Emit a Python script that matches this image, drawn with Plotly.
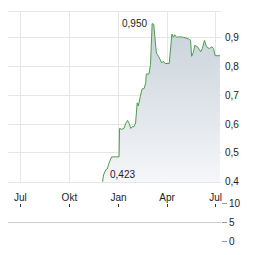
import plotly.graph_objects as go

dates = ["2023-12-02", "2023-12-04", "2023-12-08", "2023-12-11", "2023-12-14", "2023-12-19",
         "2024-01-02", "2024-01-03", "2024-01-07", "2024-01-11", "2024-01-15", "2024-01-18",
         "2024-01-21", "2024-01-24", "2024-01-27", "2024-01-30", "2024-02-02", "2024-02-04",
         "2024-02-05", "2024-02-07", "2024-02-08", "2024-02-11", "2024-02-14", "2024-02-18",
         "2024-02-21", "2024-02-22", "2024-02-27", "2024-03-01", "2024-03-04", "2024-03-07",
         "2024-03-10", "2024-03-12", "2024-03-16", "2024-03-20", "2024-03-22", "2024-03-25",
         "2024-03-28", "2024-04-05", "2024-04-08", "2024-04-10", "2024-04-13", "2024-04-15",
         "2024-04-19", "2024-04-24", "2024-05-02", "2024-05-11", "2024-05-15", "2024-05-17",
         "2024-05-20", "2024-05-23", "2024-05-28", "2024-06-01", "2024-06-03", "2024-06-06",
         "2024-06-10", "2024-06-13", "2024-06-15", "2024-06-19", "2024-06-24", "2024-06-27",
         "2024-06-30", "2024-07-09"]
prices = [0.398, 0.423, 0.441, 0.444, 0.463, 0.486,
          0.486, 0.585, 0.582, 0.585, 0.604, 0.613,
          0.602, 0.585, 0.591, 0.591, 0.604, 0.647,
          0.674, 0.663, 0.674, 0.697, 0.722, 0.724,
          0.744, 0.774, 0.774, 0.808, 0.950, 0.947,
          0.886, 0.847, 0.836, 0.819, 0.813, 0.819,
          0.811, 0.811, 0.869, 0.913, 0.902, 0.911,
          0.902, 0.904, 0.902, 0.897, 0.891, 0.836,
          0.849, 0.874, 0.869, 0.856, 0.852, 0.863,
          0.891, 0.874, 0.867, 0.863, 0.869, 0.863,
          0.838, 0.838]

x_tick_vals = ["2023-07-01", "2023-10-01", "2024-01-01", "2024-04-01", "2024-07-01"]
x_tick_text = ["Jul", "Okt", "Jan", "Apr", "Jul"]
y_tick_vals = [0.4, 0.5, 0.6, 0.7, 0.8, 0.9]
vol_tick_vals = [0, 5, 10]

high_label = "0,950"
low_label = "0,423"

font = dict(family="Liberation Sans, Arial, sans-serif", size=10, color="#222222")

fig = go.Figure()
fig.add_trace(go.Scatter(
    x=dates, y=prices, mode="lines",
    line=dict(color="#4c9e4c", width=1),
    fill="tozeroy",
    fillgradient=dict(type="vertical", start=0.4, stop=0.95,
                      colorscale=[[0, "#f7f8fa"], [1, "#c8d1da"]]),
    xaxis="x", yaxis="y", hoverinfo="skip",
))
# empty volume panel
fig.add_trace(go.Scatter(x=[dates[0]], y=[None], mode="lines", xaxis="x2", yaxis="y2",
                         showlegend=False))

i_hi = prices.index(max(prices))
i_lo = 1
fig.add_annotation(x=dates[i_hi], y=prices[i_hi], text=high_label, showarrow=False,
                   xanchor="right", yanchor="middle", xshift=-3, font=font, xref="x", yref="y")
fig.add_annotation(x=dates[i_lo], y=prices[i_lo], text=low_label, showarrow=False,
                   xanchor="left", yanchor="middle", xshift=4, yshift=1, font=font, xref="x", yref="y")

xr = ["2023-06-08", "2024-07-11"]
fig.update_layout(
    width=264, height=255,
    margin=dict(l=8, r=43, t=7, b=8),
    paper_bgcolor="white", plot_bgcolor="white",
    showlegend=False,
    separators=",.",
    font=font,
    xaxis=dict(domain=[0, 1], range=xr, type="date", anchor="y",
               tickvals=x_tick_vals, ticktext=x_tick_text, ticks="",
               showgrid=True, gridcolor="#e6e6e6", gridwidth=1,
               showline=True, linecolor="#e6e6e6", mirror=True,
               zeroline=False, ticklabelstandoff=6, tickfont=font),
    yaxis=dict(domain=[0.2625, 1], range=[0.4, 0.99], side="right", anchor="x",
               tickvals=y_tick_vals, tickformat=".1f", ticks="",
               showgrid=True, gridcolor="#e6e6e6", gridwidth=1,
               zeroline=False, ticklabelstandoff=3, tickfont=font),
    xaxis2=dict(domain=[0, 1], range=xr, type="date", anchor="y2", side="top",
                tickvals=x_tick_vals, showticklabels=False, ticks="inside",
                ticklen=3, tickcolor="#333333", showgrid=False, zeroline=False,
                showline=False),
    yaxis2=dict(domain=[0, 0.1667], range=[0, 10], side="right", anchor="x2",
                tickvals=vol_tick_vals, ticks="outside", ticklen=5, tickcolor="#999999",
                showgrid=True, gridcolor="#cccccc", gridwidth=1, zeroline=False,
                tickfont=font),
)

fig.write_html("out.html")
